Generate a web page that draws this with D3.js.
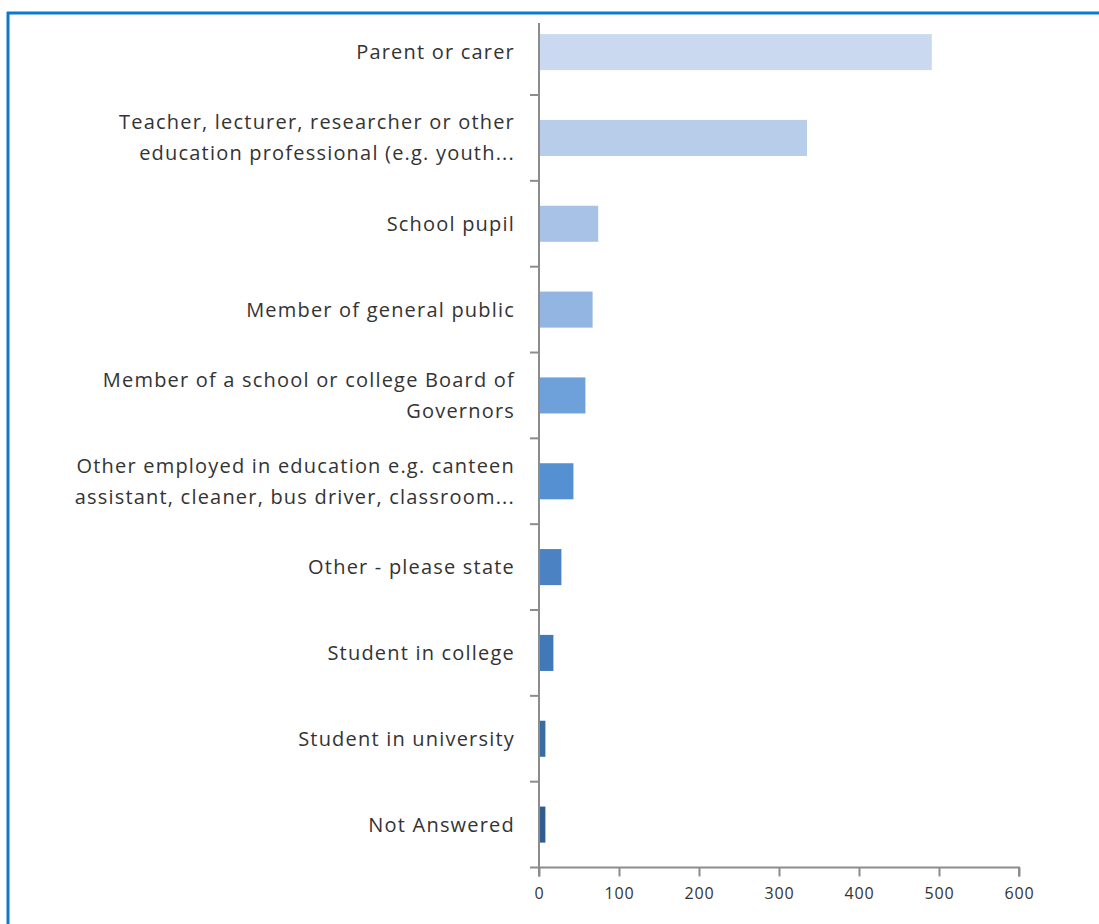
<!DOCTYPE html>
<html>
<head>
<meta charset="utf-8">
<script src="https://cdn.jsdelivr.net/npm/d3@7"></script>
<style>
  html, body { margin: 0; padding: 0; background: #fff; }
  svg { display: block; }
</style>
</head>
<body>
<svg id="chart" width="1099" height="924"></svg>
<script>
// Respondent categories (each entry is a list of label lines)
const categories = [
  ["Parent or carer"],
  ["Teacher, lecturer, researcher or other", "education professional (e.g. youth..."],
  ["School pupil"],
  ["Member of general public"],
  ["Member of a school or college Board of", "Governors"],
  ["Other employed in education e.g. canteen", "assistant, cleaner, bus driver, classroom..."],
  ["Other - please state"],
  ["Student in college"],
  ["Student in university"],
  ["Not Answered"]
];
// Number of responses per category
const values = [491, 335, 74, 67, 58, 43, 28, 18, 8, 8];
// Bar fills, light to dark
const barColors = ["#cad9ef", "#b8cde9", "#a7c2e6", "#92b6e1", "#6ea1da", "#5590d3", "#4a82c4", "#4179b8", "#386ca3", "#315e8e"];
// Value axis ticks
const xTicks = [0, 100, 200, 300, 400, 500, 600];

const svg = d3.select("#chart");
const font = "'Open Sans', 'Noto Sans', sans-serif";

// Frame
svg.append("line").attr("x1", 7).attr("x2", 1099).attr("y1", 13).attr("y2", 13)
  .attr("stroke", "#0f78c8").attr("stroke-width", 3);
svg.append("line").attr("x1", 8).attr("x2", 8).attr("y1", 12).attr("y2", 924)
  .attr("stroke", "#0f78c8").attr("stroke-width", 3);

const x0 = 539, x1 = 1019;
const yTop = 9.2, yBot = 867.5;

const x = d3.scaleLinear().domain([0, 600]).range([x0, x1]);
const y = d3.scaleBand().domain(d3.range(categories.length)).range([yTop, yBot]).paddingInner(0.58).paddingOuter(0.29);
const yEdge = d3.scaleLinear().domain([0, categories.length]).range([yTop, yBot]);

// Bars
svg.append("g").selectAll("rect").data(values).join("rect")
  .attr("x", x(0))
  .attr("y", (d, i) => y(i))
  .attr("width", d => x(d) - x(0))
  .attr("height", y.bandwidth())
  .attr("fill", (d, i) => barColors[i]);

// Category axis
const axisColor = "#8c8c8c";
svg.append("line").attr("x1", x0).attr("x2", x0).attr("y1", 23).attr("y2", yBot + 9)
  .attr("stroke", axisColor).attr("stroke-width", 2);
svg.append("g").selectAll("line").data(d3.range(1, categories.length + 1)).join("line")
  .attr("x1", x0 - 9).attr("x2", x0)
  .attr("y1", d => yEdge(d)).attr("y2", d => yEdge(d))
  .attr("stroke", axisColor).attr("stroke-width", 2);

// Category labels
const lineH = 31;
const labels = svg.append("g")
  .attr("font-family", font)
  .attr("font-size", 20)
  .attr("letter-spacing", 1.2)
  .attr("fill", "#333")
  .attr("text-anchor", "end");
categories.forEach((lines, i) => {
  const cy = y(i) + y.bandwidth() / 2;
  const t = labels.append("text").attr("x", 515);
  lines.forEach((ln, k) => {
    t.append("tspan")
      .attr("x", 515)
      .attr("y", cy + (k - (lines.length - 1) / 2) * lineH)
      .attr("dy", "0.35em")
      .text(ln);
  });
});

// Value axis
const xAxis = svg.append("g")
  .attr("transform", `translate(0,${yBot})`)
  .call(d3.axisBottom(x).tickValues(xTicks).tickSize(9).tickPadding(11));
xAxis.select(".domain").attr("stroke", axisColor).attr("stroke-width", 2)
  .attr("d", `M${x0},0H${x1}V9`);
xAxis.selectAll(".tick line").attr("stroke", axisColor).attr("stroke-width", 2);
xAxis.selectAll(".tick text")
  .attr("font-family", font)
  .attr("font-size", 16)
  .attr("letter-spacing", 0.8)
  .attr("fill", "#333");
</script>
</body>
</html>
